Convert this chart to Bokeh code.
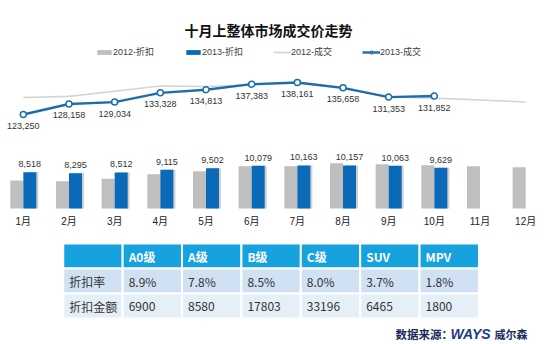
from bokeh.plotting import figure
from bokeh.models import ColumnDataSource, FactorRange, Range1d, Label, Legend, LegendItem
from bokeh.transform import dodge
from bokeh.core.properties import value, field
from bokeh.layouts import column
from bokeh.embed import file_html
from bokeh.resources import INLINE

# ---------------- data ----------------
months = ["1月", "2月", "3月", "4月", "5月", "6月", "7月", "8月", "9月", "10月", "11月", "12月"]
disc_2012 = [6600, 6440, 7000, 8090, 8800, 9970, 9970, 10680, 10450, 10210, 9970, 9740]
disc_2013 = [8518, 8295, 8512, 9115, 9502, 10079, 10163, 10157, 10063, 9629]
price_2012 = [131200, 131700, 134100, 136500, 136300, 137000, 137900, 135400, 131400, 130900, 130000, 129100]
price_2013 = [123250, 128158, 129034, 133328, 134813, 137383, 138161, 135658, 131353, 131852]

table_header = ["", "A0级", "A级", "B级", "C级", "SUV", "MPV"]
row_labels = ["折扣率", "折扣金额"]
discount_rate = [8.9, 7.8, 8.5, 8.0, 3.7, 1.8]
discount_amount = [6900, 8580, 17803, 33196, 6465, 1800]

title_text = "十月上整体市场成交价走势"
legend_labels = ["2012-折扣", "2013-折扣", "2012-成交", "2013-成交"]

# ---------------- styles ----------------
CJK = "Noto Sans CJK SC"
MIX = "Liberation Sans, Noto Sans CJK SC"
GRAY_BAR = "#bfbfbf"
BLUE_BAR = "#0a6ab8"
BLUE_LINE = "#1f6cab"
GRAY_LINE = "#d4d4d4"

# ---------------- main chart ----------------
p = figure(width=550, height=235, x_range=FactorRange(*months),
           y_range=Range1d(-472, 49046),
           output_backend="svg", toolbar_location=None, y_axis_location=None,
           min_border_left=0, min_border_right=2, min_border_top=0, min_border_bottom=25,
           outline_line_color=None)
p.extra_y_ranges = {"price": Range1d(78514, 176374)}
p.grid.visible = False
p.background_fill_color = "white"
p.border_fill_color = "white"

ax = p.xaxis[0]
ax.axis_line_color = None
ax.major_tick_line_color = None
ax.minor_tick_line_color = None
ax.major_tick_out = 0
ax.major_tick_in = 0
ax.major_label_standoff = 5
ax.major_label_text_font = MIX
ax.major_label_text_font_size = "10px"
ax.major_label_text_color = "#222222"

bw = 0.285
src12 = ColumnDataSource(dict(month=months, v=disc_2012))
src13 = ColumnDataSource(dict(month=months[:len(disc_2013)], v=disc_2013,
                              label=[f"{v:,}" for v in disc_2013]))

r_g = p.vbar(x=dodge("month", -bw / 2, range=p.x_range), top="v", width=bw,
             source=src12, fill_color=GRAY_BAR, line_color=None)
p.vbar(x=dodge("month", bw / 2 + 0.045, range=p.x_range), top="v", width=bw,
       source=src13, fill_color="#9a9a9a", fill_alpha=0.45, line_color=None)
r_b = p.vbar(x=dodge("month", bw / 2, range=p.x_range), top="v", width=bw,
             source=src13, fill_color=BLUE_BAR, line_color=None)
p.text(x=dodge("month", bw / 2, range=p.x_range), y="v", text="label", source=src13,
       text_align="center", text_baseline="middle", y_offset=-8,
       text_font_size="9px", text_color="#333333", text_font=value("Liberation Sans"))

srcp12 = ColumnDataSource(dict(month=months, v=price_2012))
srcp13 = ColumnDataSource(dict(month=months[:len(price_2013)], v=price_2013,
                               label=[f"{v:,}" for v in price_2013]))
r_l12 = p.line("month", "v", source=srcp12, y_range_name="price",
               line_color=GRAY_LINE, line_width=1.6)
r_l13 = p.line("month", "v", source=srcp13, y_range_name="price",
               line_color=BLUE_LINE, line_width=2.4)
r_m13 = p.scatter("month", "v", source=srcp13, y_range_name="price", size=6,
                  fill_color="white", line_color=BLUE_LINE, line_width=1.5)
p.text(x="month", y="v", text="label", source=srcp13, y_range_name="price",
       text_align="center", text_baseline="middle", y_offset=11.5,
       text_font_size="9px", text_color="#333333", text_font=value("Liberation Sans"))

legend = Legend(items=[LegendItem(label=legend_labels[0], renderers=[r_g]),
                       LegendItem(label=legend_labels[1], renderers=[r_b]),
                       LegendItem(label=legend_labels[2], renderers=[r_l12]),
                       LegendItem(label=legend_labels[3], renderers=[r_l13, r_m13])],
                orientation="horizontal", location=(95, 152),
                glyph_width=18, glyph_height=6, label_standoff=0, label_width=71,
                label_height=12, spacing=0, padding=0, margin=0,
                border_line_color=None, background_fill_alpha=0,
                label_text_font=MIX, label_text_font_size="9px",
                label_text_color="#404040")
p.add_layout(legend)

p.add_layout(Label(x=268, y=181, x_units="screen", y_units="screen", text=title_text,
                   text_align="center", text_baseline="middle", text_font=CJK,
                   text_font_size="14px", text_font_style="bold", text_color="#111111"))

# ---------------- table ----------------
t = figure(width=550, height=109, x_range=Range1d(-63 / 59.6, 487 / 59.6),
           y_range=Range1d(4.04, -0.32), output_backend="svg", toolbar_location=None,
           x_axis_location=None, y_axis_location=None, min_border=0,
           outline_line_color=None)
t.grid.visible = False

HEAD = "#15a2df"
ROW1 = "#cfe1f2"
ROW2 = "#e5eff8"
cx, cy, fills, texts, tcols, fstyles = [], [], [], [], [], []
for c, h in enumerate(table_header):
    cx.append(c); cy.append(0); fills.append(HEAD); texts.append(h)
    tcols.append("white"); fstyles.append("bold")
body = [[row_labels[0]] + [f"{v:.1f}%" for v in discount_rate],
        [row_labels[1]] + [str(v) for v in discount_amount]]
for r, row in enumerate(body, start=1):
    for c, txt in enumerate(row):
        cx.append(c); cy.append(r); fills.append(ROW1 if r == 1 else ROW2)
        texts.append(txt); tcols.append("#333333"); fstyles.append("normal")
tsrc = ColumnDataSource(dict(xc=[c + 0.5 for c in cx], xl=cx, yc=[r + 0.5 for r in cy],
                             fill=fills, text=texts, tc=tcols, fs=fstyles))
t.rect(x="xc", y="yc", width=1, height=1, source=tsrc, fill_color="fill",
       line_color="white", line_width=2)
t.text(x="xl", y="yc", text="text", source=tsrc, x_offset=6, text_baseline="middle",
       text_align="left", text_color="tc", text_font_style=field("fs"),
       text_font_size="12px", text_font=value(CJK))

NAVY = "#1c2a5c"
t.add_layout(Label(x=395, y=11, x_units="screen", y_units="screen", text="数据来源：",
                   text_baseline="middle", text_font=CJK, text_font_size="11.5px",
                   text_font_style="bold", text_color=NAVY))
t.add_layout(Label(x=450, y=11, x_units="screen", y_units="screen", text="WAYS",
                   text_baseline="middle", text_font="Liberation Sans", text_font_size="14px",
                   text_font_style="bold italic", text_color="#1d3a86"))
t.add_layout(Label(x=494, y=11, x_units="screen", y_units="screen", text="威尔森",
                   text_baseline="middle", text_font=CJK, text_font_size="11px",
                   text_font_style="bold", text_color=NAVY))

layout = column(p, t, spacing=0)
open("out.html", "w").write(file_html(layout, INLINE))
